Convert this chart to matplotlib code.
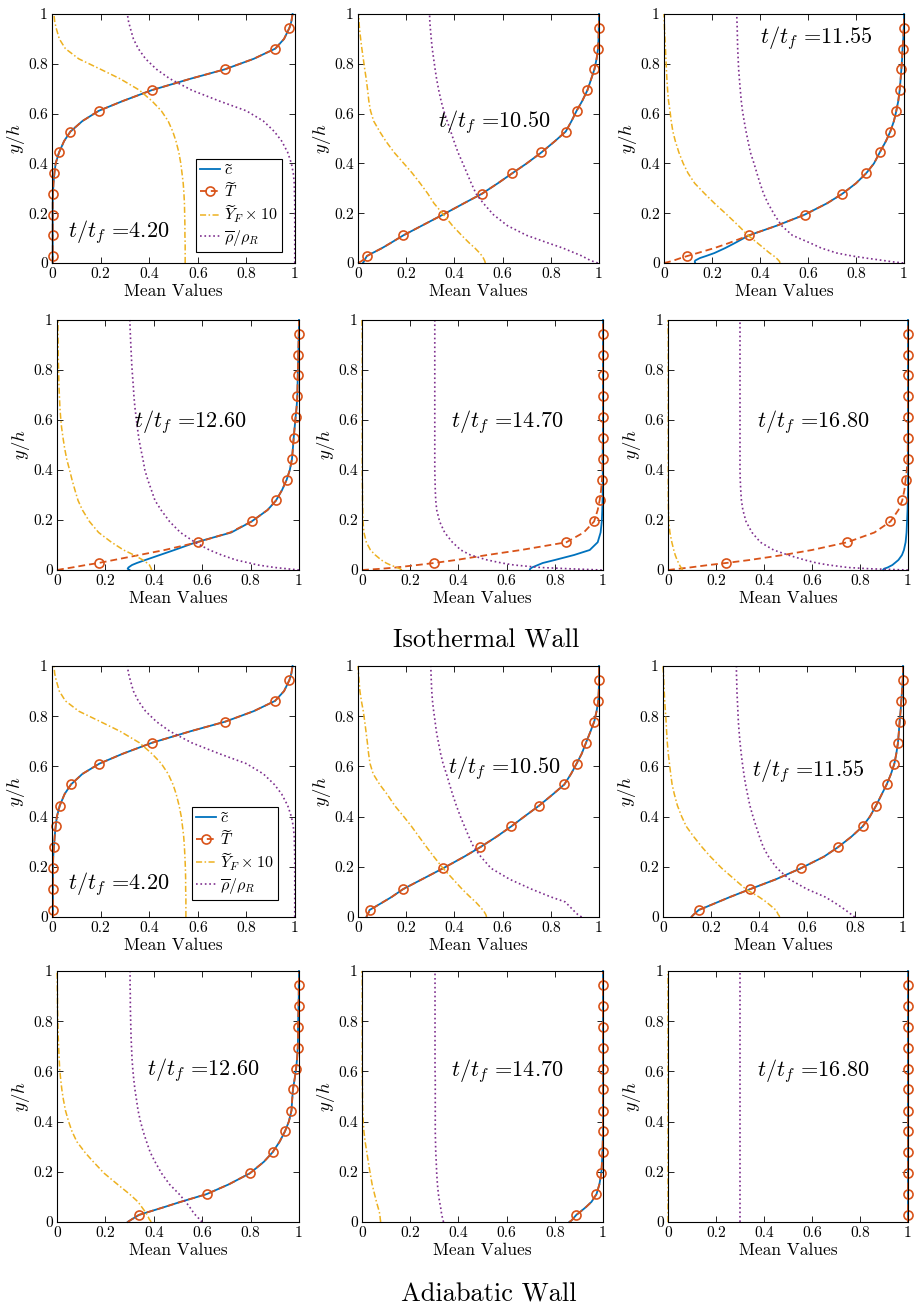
import numpy as np
import matplotlib
matplotlib.use('Agg')
import matplotlib.pyplot as plt

plt.rcParams['font.family'] = 'serif'
plt.rcParams['font.serif'] = ['cmr10']
plt.rcParams['mathtext.fontset'] = 'cm'
plt.rcParams['axes.unicode_minus'] = False

# wall-normal positions y/h shared by all profiles
y_h = [0, 0.005, 0.01, 0.02, 0.028, 0.04, 0.06, 0.08, 0.111, 0.15,
       0.194, 0.24, 0.278, 0.32, 0.361, 0.4, 0.444, 0.49, 0.528, 0.57,
       0.611, 0.65, 0.694, 0.74, 0.778, 0.82, 0.861, 0.9, 0.944, 0.97,
       1.0]
# the T markers sit at these entries of y_h
t_marks = [4, 8, 10, 12, 14, 16, 18, 20, 22, 24, 26, 28]

times = ['4.20', '10.50', '11.55', '12.60', '14.70', '16.80']

# ---------------- isothermal wall ----------------
iso_c_420 = [0.003, 0.003, 0.003, 0.003, 0.003, 0.003, 0.003, 0.003, 0.003, 0.003,
             0.003, 0.003, 0.004, 0.006, 0.01, 0.015, 0.029, 0.05, 0.076, 0.125,
             0.192, 0.29, 0.41, 0.57, 0.712, 0.83, 0.919, 0.955, 0.977, 0.985,
             0.99]
iso_T_420 = [0.003, 0.003, 0.003, 0.003, 0.003, 0.003, 0.003, 0.003, 0.003, 0.003,
             0.003, 0.003, 0.004, 0.006, 0.01, 0.015, 0.029, 0.05, 0.076, 0.125,
             0.192, 0.29, 0.41, 0.57, 0.712, 0.83, 0.919, 0.955, 0.977, 0.985,
             0.99]
iso_YF_420 = [0.548, 0.548, 0.548, 0.548, 0.548, 0.548, 0.548, 0.548, 0.547, 0.547,
              0.546, 0.545, 0.543, 0.54, 0.535, 0.53, 0.522, 0.51, 0.497, 0.478,
              0.45, 0.412, 0.36, 0.28, 0.2, 0.11, 0.055, 0.03, 0.017, 0.011,
              0.008]
iso_rho_420 = [0.999, 0.999, 0.999, 0.999, 0.999, 0.999, 0.999, 0.999, 0.999, 0.999,
               0.999, 0.999, 0.998, 0.997, 0.993, 0.985, 0.97, 0.945, 0.915, 0.87,
               0.8, 0.69, 0.575, 0.485, 0.43, 0.385, 0.355, 0.335, 0.322, 0.315,
               0.31]

iso_c_1050 = [0.02, 0.024, 0.027, 0.032, 0.037, 0.06, 0.1, 0.135, 0.188, 0.265,
              0.352, 0.44, 0.514, 0.58, 0.641, 0.7, 0.761, 0.818, 0.862, 0.886,
              0.907, 0.93, 0.952, 0.968, 0.981, 0.99, 0.996, 0.998, 0.999, 1.0,
              1.0]
iso_T_1050 = [0.0, 0.01, 0.018, 0.03, 0.037, 0.06, 0.1, 0.135, 0.188, 0.265,
              0.352, 0.44, 0.514, 0.58, 0.641, 0.7, 0.761, 0.818, 0.862, 0.886,
              0.907, 0.93, 0.952, 0.968, 0.981, 0.99, 0.996, 0.998, 0.999, 1.0,
              1.0]
iso_YF_1050 = [0.528, 0.527, 0.525, 0.52, 0.515, 0.505, 0.485, 0.462, 0.43, 0.392,
               0.355, 0.315, 0.29, 0.258, 0.225, 0.19, 0.15, 0.115, 0.09, 0.065,
               0.052, 0.045, 0.04, 0.034, 0.028, 0.022, 0.016, 0.011, 0.006, 0.004,
               0.003]
iso_rho_1050 = [0.995, 0.98, 0.965, 0.945, 0.93, 0.9, 0.85, 0.79, 0.7, 0.62,
                0.562, 0.52, 0.49, 0.47, 0.452, 0.435, 0.415, 0.398, 0.385, 0.37,
                0.356, 0.345, 0.335, 0.326, 0.32, 0.314, 0.308, 0.304, 0.3, 0.298,
                0.297]

iso_c_1155 = [0.13, 0.128, 0.13, 0.15, 0.175, 0.21, 0.255, 0.295, 0.354, 0.47,
              0.586, 0.68, 0.743, 0.8, 0.843, 0.875, 0.899, 0.925, 0.943, 0.958,
              0.968, 0.976, 0.982, 0.986, 0.989, 0.992, 0.994, 0.997, 0.999, 1.0,
              1.0]
iso_T_1155 = [0.0, 0.022, 0.04, 0.07, 0.097, 0.14, 0.21, 0.27, 0.354, 0.47,
              0.586, 0.68, 0.743, 0.8, 0.843, 0.875, 0.899, 0.925, 0.943, 0.958,
              0.968, 0.976, 0.982, 0.986, 0.989, 0.992, 0.994, 0.997, 0.999, 1.0,
              1.0]
iso_YF_1155 = [0.483, 0.482, 0.478, 0.468, 0.458, 0.44, 0.415, 0.39, 0.35, 0.31,
               0.262, 0.21, 0.17, 0.128, 0.1, 0.08, 0.062, 0.047, 0.037, 0.03,
               0.025, 0.019, 0.015, 0.012, 0.01, 0.008, 0.006, 0.004, 0.002, 0.001,
               0.0]
iso_rho_1155 = [0.997, 0.95, 0.915, 0.84, 0.785, 0.72, 0.655, 0.61, 0.535, 0.49,
                0.46, 0.433, 0.415, 0.4, 0.387, 0.375, 0.36, 0.35, 0.342, 0.334,
                0.327, 0.322, 0.318, 0.314, 0.311, 0.309, 0.307, 0.306, 0.305, 0.304,
                0.303]

iso_c_1260 = [0.3, 0.292, 0.295, 0.31, 0.33, 0.365, 0.425, 0.485, 0.575, 0.72,
              0.804, 0.87, 0.905, 0.93, 0.949, 0.962, 0.971, 0.975, 0.978, 0.982,
              0.986, 0.99, 0.993, 0.994, 0.995, 0.996, 0.997, 0.998, 0.999, 1.0,
              1.0]
iso_T_1260 = [0.0, 0.03, 0.062, 0.12, 0.172, 0.235, 0.34, 0.445, 0.581, 0.715,
              0.804, 0.87, 0.905, 0.93, 0.949, 0.962, 0.971, 0.975, 0.978, 0.982,
              0.986, 0.99, 0.993, 0.994, 0.995, 0.996, 0.997, 0.998, 0.999, 1.0,
              1.0]
iso_YF_1260 = [0.39, 0.39, 0.387, 0.382, 0.372, 0.355, 0.318, 0.275, 0.225, 0.172,
               0.134, 0.105, 0.087, 0.074, 0.062, 0.052, 0.04, 0.031, 0.025, 0.019,
               0.015, 0.012, 0.01, 0.008, 0.007, 0.006, 0.005, 0.005, 0.004, 0.004,
               0.004]
iso_rho_1260 = [1.0, 0.95, 0.9, 0.83, 0.795, 0.74, 0.68, 0.63, 0.57, 0.51,
                0.465, 0.43, 0.405, 0.39, 0.375, 0.363, 0.355, 0.345, 0.338, 0.332,
                0.327, 0.322, 0.318, 0.315, 0.312, 0.309, 0.307, 0.305, 0.303, 0.302,
                0.301]

iso_c_1470 = [0.696, 0.698, 0.705, 0.73, 0.75, 0.8, 0.88, 0.945, 0.978, 0.99,
              0.995, 0.997, 0.998, 0.999, 0.999, 0.999, 0.999, 0.999, 1.0, 1.0,
              1.0, 1.0, 1.0, 1.0, 1.0, 1.0, 1.0, 1.0, 1.0, 1.0,
              1.0]
iso_T_1470 = [0.0, 0.08, 0.14, 0.23, 0.299, 0.39, 0.52, 0.66, 0.848, 0.92,
              0.963, 0.978, 0.986, 0.992, 0.996, 0.997, 0.998, 0.999, 0.999, 1.0,
              1.0, 1.0, 1.0, 1.0, 1.0, 1.0, 1.0, 1.0, 1.0, 1.0,
              1.0]
iso_YF_1470 = [0.165, 0.158, 0.145, 0.118, 0.1, 0.08, 0.055, 0.035, 0.018, 0.008,
               0.004, 0.003, 0.002, 0.002, 0.001, 0.001, 0.001, 0.001, 0.001, 0.001,
               0.001, 0.001, 0.001, 0.001, 0.001, 0.001, 0.001, 0.001, 0.001, 0.0,
               0.0]
iso_rho_1470 = [0.995, 0.86, 0.74, 0.63, 0.58, 0.52, 0.45, 0.41, 0.375, 0.343,
                0.322, 0.31, 0.306, 0.304, 0.303, 0.302, 0.302, 0.302, 0.302, 0.302,
                0.302, 0.302, 0.302, 0.302, 0.302, 0.302, 0.302, 0.302, 0.302, 0.302,
                0.302]

iso_c_1680 = [0.896, 0.9, 0.915, 0.935, 0.945, 0.96, 0.975, 0.983, 0.99, 0.994,
              0.996, 0.998, 0.999, 1.0, 1.0, 1.0, 1.0, 1.0, 1.0, 1.0,
              1.0, 1.0, 1.0, 1.0, 1.0, 1.0, 1.0, 1.0, 1.0, 1.0,
              1.0]
iso_T_1680 = [0.0, 0.045, 0.09, 0.17, 0.242, 0.34, 0.48, 0.6, 0.747, 0.86,
              0.927, 0.96, 0.976, 0.985, 0.99, 0.995, 0.998, 0.999, 0.999, 1.0,
              1.0, 1.0, 1.0, 1.0, 1.0, 1.0, 1.0, 1.0, 1.0, 1.0,
              1.0]
iso_YF_1680 = [0.06, 0.058, 0.054, 0.048, 0.044, 0.038, 0.03, 0.024, 0.016, 0.008,
               0.003, 0.002, 0.001, 0.001, 0.001, 0.001, 0.001, 0.001, 0.001, 0.001,
               0.001, 0.001, 0.001, 0.001, 0.001, 0.001, 0.001, 0.001, 0.001, 0.0,
               0.0]
iso_rho_1680 = [1.0, 0.84, 0.75, 0.67, 0.62, 0.57, 0.5, 0.44, 0.385, 0.35,
                0.325, 0.312, 0.306, 0.303, 0.301, 0.3, 0.3, 0.3, 0.3, 0.3,
                0.3, 0.3, 0.3, 0.3, 0.3, 0.3, 0.3, 0.3, 0.3, 0.3,
                0.3]

# ---------------- adiabatic wall ----------------
adi_c_420 = [0.004, 0.004, 0.004, 0.004, 0.004, 0.004, 0.004, 0.004, 0.004, 0.004,
             0.004, 0.005, 0.008, 0.011, 0.015, 0.02, 0.032, 0.052, 0.078, 0.125,
             0.195, 0.29, 0.411, 0.57, 0.712, 0.83, 0.918, 0.955, 0.977, 0.985,
             0.99]
adi_T_420 = [0.004, 0.004, 0.004, 0.004, 0.004, 0.004, 0.004, 0.004, 0.004, 0.004,
             0.004, 0.005, 0.008, 0.011, 0.015, 0.02, 0.032, 0.052, 0.078, 0.125,
             0.195, 0.29, 0.411, 0.57, 0.712, 0.83, 0.918, 0.955, 0.977, 0.985,
             0.99]
adi_YF_420 = [0.551, 0.551, 0.551, 0.551, 0.551, 0.551, 0.551, 0.551, 0.55, 0.55,
              0.549, 0.547, 0.545, 0.542, 0.537, 0.532, 0.523, 0.511, 0.498, 0.478,
              0.45, 0.412, 0.36, 0.28, 0.2, 0.11, 0.055, 0.03, 0.017, 0.011,
              0.008]
adi_rho_420 = [0.999, 0.999, 0.999, 0.999, 0.999, 0.999, 0.999, 0.999, 0.999, 0.999,
               0.999, 0.999, 0.998, 0.997, 0.993, 0.985, 0.97, 0.945, 0.915, 0.87,
               0.8, 0.69, 0.575, 0.485, 0.43, 0.385, 0.355, 0.335, 0.322, 0.315,
               0.31]

adi_c_1050 = [0.035, 0.037, 0.04, 0.045, 0.048, 0.07, 0.105, 0.14, 0.187, 0.265,
              0.353, 0.44, 0.507, 0.575, 0.636, 0.69, 0.752, 0.81, 0.856, 0.884,
              0.907, 0.928, 0.946, 0.965, 0.98, 0.99, 0.997, 0.999, 1.0, 1.0,
              1.0]
adi_T_1050 = [0.035, 0.037, 0.04, 0.045, 0.048, 0.07, 0.105, 0.14, 0.187, 0.265,
              0.353, 0.44, 0.507, 0.575, 0.636, 0.69, 0.752, 0.81, 0.856, 0.884,
              0.907, 0.928, 0.946, 0.965, 0.98, 0.99, 0.997, 0.999, 1.0, 1.0,
              1.0]
adi_YF_1050 = [0.533, 0.532, 0.53, 0.524, 0.518, 0.507, 0.488, 0.465, 0.432, 0.395,
               0.353, 0.315, 0.285, 0.253, 0.222, 0.19, 0.152, 0.12, 0.09, 0.063,
               0.05, 0.044, 0.039, 0.033, 0.028, 0.022, 0.014, 0.008, 0.004, 0.002,
               0.0]
adi_rho_1050 = [0.928, 0.92, 0.912, 0.9, 0.893, 0.88, 0.86, 0.8, 0.72, 0.63,
                0.552, 0.51, 0.48, 0.46, 0.442, 0.425, 0.408, 0.392, 0.38, 0.367,
                0.353, 0.343, 0.334, 0.325, 0.32, 0.314, 0.309, 0.306, 0.304, 0.303,
                0.302]

adi_c_1155 = [0.118, 0.123, 0.128, 0.14, 0.149, 0.18, 0.23, 0.28, 0.363, 0.47,
              0.574, 0.67, 0.729, 0.785, 0.832, 0.862, 0.888, 0.912, 0.932, 0.95,
              0.964, 0.972, 0.979, 0.983, 0.986, 0.99, 0.993, 0.996, 0.999, 1.0,
              1.0]
adi_T_1155 = [0.118, 0.123, 0.128, 0.14, 0.149, 0.18, 0.23, 0.28, 0.363, 0.47,
              0.574, 0.67, 0.729, 0.785, 0.832, 0.862, 0.888, 0.912, 0.932, 0.95,
              0.964, 0.972, 0.979, 0.983, 0.986, 0.99, 0.993, 0.996, 0.999, 1.0,
              1.0]
adi_YF_1155 = [0.486, 0.484, 0.48, 0.475, 0.47, 0.455, 0.43, 0.4, 0.345, 0.298,
               0.245, 0.198, 0.163, 0.128, 0.097, 0.078, 0.06, 0.047, 0.038, 0.032,
               0.027, 0.022, 0.018, 0.015, 0.013, 0.01, 0.007, 0.005, 0.003, 0.002,
               0.0]
adi_rho_1155 = [0.799, 0.792, 0.785, 0.771, 0.76, 0.742, 0.71, 0.675, 0.6, 0.527,
                0.475, 0.44, 0.418, 0.402, 0.388, 0.375, 0.362, 0.352, 0.344, 0.337,
                0.331, 0.326, 0.321, 0.317, 0.314, 0.312, 0.31, 0.308, 0.307, 0.306,
                0.306]

adi_c_1260 = [0.292, 0.3, 0.308, 0.325, 0.338, 0.378, 0.445, 0.51, 0.618, 0.71,
              0.797, 0.855, 0.891, 0.92, 0.942, 0.958, 0.969, 0.972, 0.975, 0.982,
              0.988, 0.992, 0.995, 0.996, 0.996, 0.997, 0.998, 0.999, 0.999, 1.0,
              1.0]
adi_T_1260 = [0.292, 0.3, 0.308, 0.325, 0.338, 0.378, 0.445, 0.51, 0.618, 0.71,
              0.797, 0.855, 0.891, 0.92, 0.942, 0.958, 0.969, 0.972, 0.975, 0.982,
              0.988, 0.992, 0.995, 0.996, 0.996, 0.997, 0.998, 0.999, 0.999, 1.0,
              1.0]
adi_YF_1260 = [0.389, 0.386, 0.382, 0.377, 0.372, 0.365, 0.35, 0.335, 0.3, 0.25,
               0.195, 0.15, 0.115, 0.082, 0.062, 0.048, 0.035, 0.026, 0.02, 0.015,
               0.011, 0.009, 0.007, 0.005, 0.004, 0.003, 0.002, 0.002, 0.001, 0.001,
               0.0]
adi_rho_1260 = [0.599, 0.595, 0.59, 0.58, 0.572, 0.562, 0.548, 0.532, 0.505, 0.465,
                0.432, 0.405, 0.385, 0.37, 0.356, 0.345, 0.335, 0.328, 0.322, 0.317,
                0.313, 0.31, 0.308, 0.306, 0.305, 0.304, 0.303, 0.303, 0.302, 0.302,
                0.302]

adi_c_1470 = [0.86, 0.868, 0.873, 0.882, 0.889, 0.905, 0.93, 0.952, 0.973, 0.985,
              0.993, 0.996, 0.998, 0.999, 1.0, 1.0, 1.0, 1.0, 1.0, 1.0,
              1.0, 1.0, 1.0, 1.0, 1.0, 1.0, 1.0, 1.0, 1.0, 1.0,
              1.0]
adi_T_1470 = [0.86, 0.868, 0.873, 0.882, 0.889, 0.905, 0.93, 0.952, 0.973, 0.985,
              0.993, 0.996, 0.998, 0.999, 1.0, 1.0, 1.0, 1.0, 1.0, 1.0,
              1.0, 1.0, 1.0, 1.0, 1.0, 1.0, 1.0, 1.0, 1.0, 1.0,
              1.0]
adi_YF_1470 = [0.077, 0.077, 0.076, 0.075, 0.074, 0.072, 0.066, 0.06, 0.052, 0.042,
               0.034, 0.026, 0.02, 0.013, 0.008, 0.005, 0.003, 0.002, 0.002, 0.001,
               0.001, 0.001, 0.001, 0.001, 0.001, 0.001, 0.001, 0.001, 0.001, 0.001,
               0.0]
adi_rho_1470 = [0.338, 0.337, 0.336, 0.333, 0.331, 0.329, 0.326, 0.322, 0.317, 0.313,
                0.31, 0.308, 0.306, 0.305, 0.304, 0.304, 0.304, 0.304, 0.304, 0.304,
                0.303, 0.303, 0.303, 0.303, 0.303, 0.303, 0.303, 0.303, 0.303, 0.303,
                0.303]

adi_c_1680 = [1.0] * 31
adi_T_1680 = [1.0] * 31
adi_YF_1680 = [0.002] * 31
adi_rho_1680 = [0.301] * 31

iso_sets = [
    (iso_c_420, iso_T_420, iso_YF_420, iso_rho_420),
    (iso_c_1050, iso_T_1050, iso_YF_1050, iso_rho_1050),
    (iso_c_1155, iso_T_1155, iso_YF_1155, iso_rho_1155),
    (iso_c_1260, iso_T_1260, iso_YF_1260, iso_rho_1260),
    (iso_c_1470, iso_T_1470, iso_YF_1470, iso_rho_1470),
    (iso_c_1680, iso_T_1680, iso_YF_1680, iso_rho_1680),
]
adi_sets = [
    (adi_c_420, adi_T_420, adi_YF_420, adi_rho_420),
    (adi_c_1050, adi_T_1050, adi_YF_1050, adi_rho_1050),
    (adi_c_1155, adi_T_1155, adi_YF_1155, adi_rho_1155),
    (adi_c_1260, adi_T_1260, adi_YF_1260, adi_rho_1260),
    (adi_c_1470, adi_T_1470, adi_YF_1470, adi_rho_1470),
    (adi_c_1680, adi_T_1680, adi_YF_1680, adi_rho_1680),
]

# MATLAB default colours
blue = '#0072BD'
orange = '#D95319'
yellow = '#EDB120'
purple = '#7E2F8E'

W, H = 916, 1308
fig = plt.figure(figsize=(W / 100, H / 100), dpi=100)

# axes boxes in pixels: (x0, x1, ytop, ybottom)
boxes_iso = [(52, 295, 14, 263), (358, 599, 14, 263), (664, 904, 14, 263),
             (57, 299, 320, 570), (362, 603, 320, 570), (668, 908, 320, 570)]
boxes_adi = [(52, 295, 666, 917), (358, 599, 666, 917), (663, 903, 666, 917),
             (57, 299, 971, 1222), (362, 603, 971, 1222), (668, 908, 971, 1222)]
# label anchor (axes fraction) for the t/t_f annotation
lab_iso = [(0.066, 0.125), (0.33, 0.566), (0.40, 0.905),
           (0.318, 0.59), (0.37, 0.59), (0.37, 0.59)]
lab_adi = [(0.066, 0.13), (0.373, 0.594), (0.37, 0.58),
           (0.372, 0.607), (0.37, 0.6), (0.37, 0.6)]
leg_anchor = {'iso': (0.945, 0.044), 'adi': (0.928, 0.068)}


def draw_panel(box, data, tlabel, labpos, legend_at=None):
    x0, x1, yt, yb = box
    ax = fig.add_axes([x0 / W, 1 - yb / H, (x1 - x0) / W, (yb - yt) / H])
    c, T, yf, rho = data
    ax.plot(c, y_h, '-', color=blue, lw=1.3, clip_on=False,
            label=r'$\widetilde{c}$')
    ax.plot(T, y_h, '--', color=orange, lw=1.3, dashes=(3.8, 2.2), marker='o',
            ms=6.5, mfc='none', mec=orange, mew=1.2, markevery=t_marks,
            clip_on=False, label=r'$\widetilde{T}$')
    ax.plot(yf, y_h, '-.', color=yellow, lw=1.1, dashes=(4, 1.6, 1, 1.6),
            clip_on=False, label=r'$\widetilde{Y}_F\times 10$')
    ax.plot(rho, y_h, ':', color=purple, lw=1.2, clip_on=False,
            label=r'$\overline{\rho}/\rho_R$')
    ax.set_xlim(0, 1)
    ax.set_ylim(0, 1)
    ticks = [0, 0.2, 0.4, 0.6, 0.8, 1]
    tl = ['0', '0.2', '0.4', '0.6', '0.8', '1']
    ax.set_xticks(ticks)
    ax.set_xticklabels(tl)
    ax.set_yticks(ticks)
    ax.set_yticklabels(tl)
    ax.tick_params(direction='in', length=4, width=0.6, top=True, right=True,
                   labelsize=11.2, pad=3)
    for s in ax.spines.values():
        s.set_linewidth(0.8)
    ax.set_xlabel('Mean Values', fontsize=12.5, labelpad=2)
    ax.set_ylabel(r'$y/h$', fontsize=13.5, labelpad=1)
    ax.text(labpos[0], labpos[1], r'$t/t_f$ =' + tlabel, transform=ax.transAxes,
            fontsize=16, ha='left', va='center')
    if legend_at is not None:
        leg = ax.legend(loc='lower right', bbox_to_anchor=legend_at, fontsize=11.5,
                        fancybox=False, edgecolor='k', framealpha=1,
                        handlelength=1.25, handletextpad=0.25, borderpad=0.25,
                        labelspacing=0.2, borderaxespad=0)
        leg.get_frame().set_linewidth(0.8)
    return ax


for i in range(6):
    draw_panel(boxes_iso[i], iso_sets[i], times[i], lab_iso[i],
               leg_anchor['iso'] if i == 0 else None)
    draw_panel(boxes_adi[i], adi_sets[i], times[i], lab_adi[i],
               leg_anchor['adi'] if i == 0 else None)

fig.text(486 / W, 1 - 641 / H, 'Isothermal Wall', ha='center', va='center',
         fontsize=19)
fig.text(489 / W, 1 - 1295 / H, 'Adiabatic Wall', ha='center', va='center',
         fontsize=19)

fig.savefig('out.png', dpi=100)
